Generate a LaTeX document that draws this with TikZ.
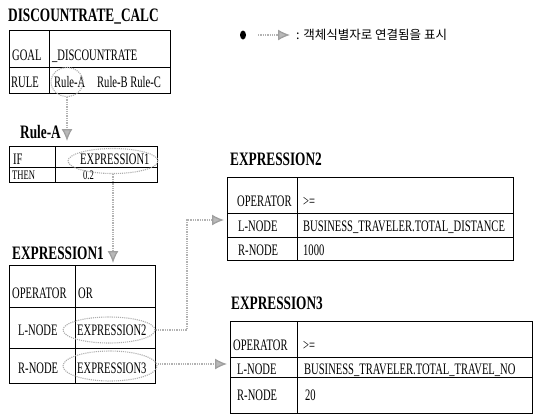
\documentclass[tikz,border=0pt]{standalone}
\usepackage{fontspec}
\setmainfont{Liberation Serif}[FakeStretch=0.66,BoldFeatures={FakeStretch=0.7}]
\newfontfamily\krfont{Noto Sans CJK KR}
\usetikzlibrary{arrows.meta,shapes.geometric}
\tikzset{
  tbl/.style={draw=black,line width=1pt},
  cell/.style={anchor=base west,inner sep=0pt,font=\fontsize{16}{18}\selectfont},
  smallcell/.style={anchor=base west,inner sep=0pt,font=\fontsize{13}{14}\selectfont},
  ttl/.style={anchor=base west,inner sep=0pt,font=\fontsize{19}{21}\selectfont\bfseries},
  oval/.style={ellipse,draw=gray!65,densely dotted,line width=1.1pt,inner sep=0pt},
  link/.style={draw=gray!60,densely dotted,line width=1.3pt,
    -{Latex[length=12pt,width=11pt,fill=gray!55,color=gray!75]}},
}
\begin{document}
\begin{tikzpicture}[x=1pt,y=-1pt]
\useasboundingbox (0,0) rectangle (538,418);
% legend
\node[ellipse,fill=black,minimum width=6pt,minimum height=9pt,inner sep=0pt] (dot) at (243,35) {};
\coordinate (la) at (258,35);
\coordinate (lb) at (290,35);
\draw[link] (la) -- (lb);
\node[anchor=west,inner sep=0pt,font=\fontsize{12.5}{14}\selectfont\krfont] (legtxt) at (296,35) {: 객체식별자로 연결됨을 표시};

% DISCOUNTRATE_CALC
\node[ttl] (t1) at (8,21) {DISCOUNTRATE\_CALC};
\draw[tbl] (9,30) rectangle (170,93);
\draw[tbl] (9,67) -- (170,67);
\draw[tbl] (49,30) -- (49,93);
\node[cell] (goal) at (12,60) {GOAL};
\node[cell] (goalv) at (52,60) {\_DISCOUNTRATE};
\node[cell] (rule) at (11,87) {RULE};
\node[cell] (rulea) at (54,87) {Rule-A};
\node[cell] (rulebc) at (97,87) {Rule-B Rule-C};
\node[oval,minimum width=32pt,minimum height=29pt] (e0) at (67,82) {};

% Rule-A
\node[ttl] (t2) at (20,138) {Rule-A};
\coordinate (tipA) at (67,141);
\draw[tbl] (9,146) rectangle (157,182);
\draw[tbl] (9,167) -- (157,167);
\draw[tbl] (55,146) -- (55,182);
\node[cell] (if) at (13,164) {IF};
\node[cell] (ifv) at (80,164) {EXPRESSION1};
\node[smallcell] (then) at (12,179) {THEN};
\node[smallcell] (thenv) at (83,179) {0.2};
\node[oval,minimum width=90pt,minimum height=25pt] (e1) at (113,161) {};

% EXPRESSION1
\node[ttl] (t3) at (12,259) {EXPRESSION1};
\coordinate (tip1) at (113,263);
\draw[tbl] (9,265) rectangle (155,383);
\draw[tbl] (9,307) -- (155,307);
\draw[tbl] (9,348) -- (155,348);
\draw[tbl] (75,265) -- (75,383);
\node[cell] (op1) at (12,298) {OPERATOR};
\node[cell] (op1v) at (78,298) {OR};
\node[cell] (ln1) at (18,335) {L-NODE};
\node[cell] (ln1v) at (77,335) {EXPRESSION2};
\node[cell] (rn1) at (18,373) {R-NODE};
\node[cell] (rn1v) at (77,373) {EXPRESSION3};
\node[oval,minimum width=92pt,minimum height=26pt] (e2) at (109,330) {};
\node[oval,minimum width=94pt,minimum height=30pt] (e3) at (110,366) {};

% EXPRESSION2
\node[ttl] (t4) at (230,165) {EXPRESSION2};
\draw[tbl] (227,177) rectangle (513,260);
\draw[tbl] (227,213) -- (513,213);
\draw[tbl] (227,237) -- (513,237);
\draw[tbl] (297,177) -- (297,260);
\node[cell] (op2) at (237,206) {OPERATOR};
\node[cell] (op2v) at (303,206) {>=};
\node[cell] (ln2) at (238,231) {L-NODE};
\node[cell] (ln2v) at (303,231) {BUSINESS\_TRAVELER.TOTAL\_DISTANCE};
\node[cell] (rn2) at (238,255) {R-NODE};
\node[cell] (rn2v) at (303,255) {1000};
\coordinate (tip2) at (224,220);
\coordinate (bend2) at (187,330);

% EXPRESSION3
\node[ttl] (t5) at (231,309) {EXPRESSION3};
\draw[tbl] (230,321) rectangle (532,413);
\draw[tbl] (230,357) -- (532,357);
\draw[tbl] (230,377) -- (532,377);
\draw[tbl] (297,321) -- (297,413);
\node[cell] (op3) at (233,350) {OPERATOR};
\node[cell] (op3v) at (303,350) {>=};
\node[cell] (ln3) at (237,374) {L-NODE};
\node[cell] (ln3v) at (304,374) {BUSINESS\_TRAVELER.TOTAL\_TRAVEL\_NO};
\node[cell] (rn3) at (237,400) {R-NODE};
\node[cell] (rn3v) at (305,400) {20};
\coordinate (tip3) at (227,364);

% connectors
\draw[link] (e0.south) -- (tipA);
\draw[link] (e1.south) -- (tip1);
\draw[link] (e2.east) -- (bend2) |- (tip2);
\draw[link] (e3.east |- tip3) -- (tip3);
\end{tikzpicture}
\end{document}
